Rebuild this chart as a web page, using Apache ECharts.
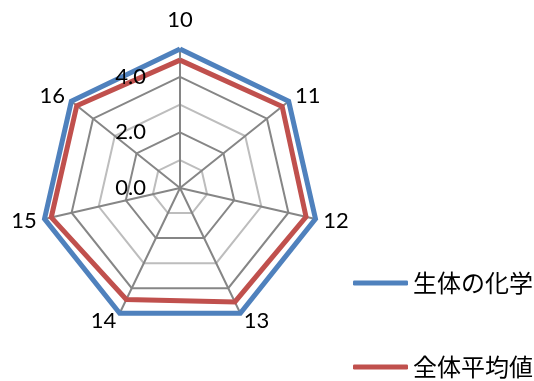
<!DOCTYPE html>
<html>
<head>
<meta charset="utf-8">
<script src="https://cdn.jsdelivr.net/npm/echarts@6/dist/echarts.min.js"></script>
<style>
  html, body { margin: 0; padding: 0; background: #fff; }
  #chart { width: 534px; height: 381px; }
</style>
</head>
<body>
<div id="chart"></div>
<script>
// Lecture numbers around the radar, listed counter-clockwise from the top
const lectures = ['10', '16', '15', '14', '13', '12', '11'];
// Scores for this course and for the overall average (same order as lectures)
const courseScores = [5.0, 5.0, 5.0, 5.0, 5.0, 5.0, 5.0];
const averageScores = [4.6, 4.75, 4.75, 4.45, 4.55, 4.65, 4.7];
const seriesNames = ['生体の化学', '全体平均値'];
const scaleMax = 5;
const tickStep = 2;

const CENTER = [180, 188];
const RADIUS = 139;
const LATIN = 'Lato, "Liberation Sans", sans-serif';

const chart = echarts.init(document.getElementById('chart'));

chart.setOption({
  backgroundColor: '#ffffff',
  animation: false,
  legend: {
    orient: 'vertical',
    left: 353,
    top: 271,
    padding: 0,
    itemWidth: 55,
    itemHeight: 5,
    itemGap: 60,
    icon: 'roundRect',
    data: seriesNames,
    textStyle: {
      fontFamily: '"Noto Sans CJK JP", sans-serif',
      fontSize: 24,
      lineHeight: 24,
      color: '#000'
    }
  },
  radar: {
    center: CENTER,
    radius: RADIUS,
    startAngle: 90,
    shape: 'polygon',
    splitNumber: 5,
    nameGap: 8,
    indicator: lectures.map(n => ({ name: n, min: 0, max: scaleMax })),
    axisName: {
      color: '#000',
      fontFamily: LATIN,
      fontSize: 22,
      formatter: (name) => name === '10' ? '{top|' + name + '}' : name,
      rich: {
        top: { fontFamily: LATIN, fontSize: 22, color: '#000', padding: [0, 0, 10, 0] }
      }
    },
    axisLine: { lineStyle: { color: '#868686', width: 2 } },
    splitLine: {
      lineStyle: {
        color: ['rgba(0,0,0,0)', '#bdbdbd', '#868686', '#bdbdbd', '#868686', 'rgba(0,0,0,0)'],
        width: 2
      }
    },
    splitArea: { show: false }
  },
  // Polar system sharing the radar centre, used only for the value labels on the top axis
  polar: { center: CENTER, radius: RADIUS },
  angleAxis: { startAngle: 90, show: false, min: 0, max: 360 },
  radiusAxis: {
    z: 10,
    min: 0,
    max: scaleMax,
    interval: tickStep,
    axisLine: { show: false },
    axisTick: { show: false },
    splitLine: { show: false },
    axisLabel: {
      margin: 34,
      showMaxLabel: false,
      fontFamily: LATIN,
      fontSize: 22,
      color: '#000',
      formatter: (v) => v.toFixed(1)
    }
  },
  series: [{
    type: 'radar',
    symbol: 'none',
    data: [
      {
        name: seriesNames[0],
        value: courseScores,
        lineStyle: { color: '#4f81bd', width: 5, join: 'miter' },
        itemStyle: { color: '#4f81bd' }
      },
      {
        name: seriesNames[1],
        value: averageScores,
        lineStyle: { color: '#c0504d', width: 5, join: 'miter' },
        itemStyle: { color: '#c0504d' }
      }
    ]
  }]
});
</script>
</body>
</html>
